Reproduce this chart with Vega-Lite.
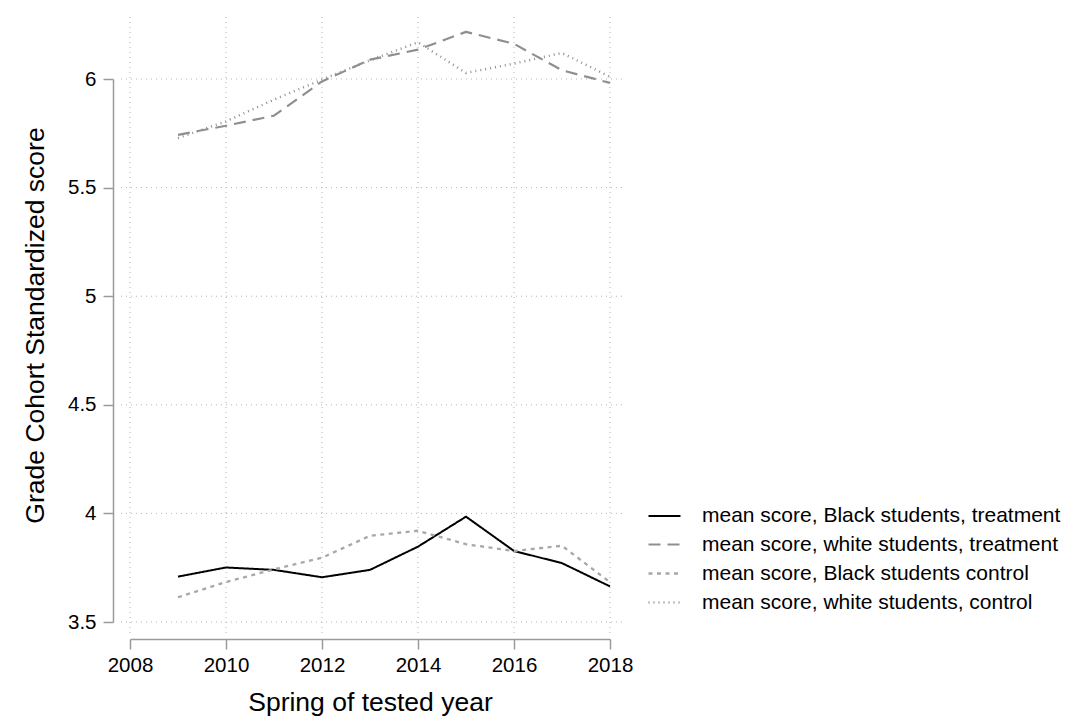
{
  "$schema": "https://vega.github.io/schema/vega-lite/v6.json",
  "width": 504,
  "height": 616,
  "autosize": {"type": "none"},
  "padding": {"left": 118, "top": 17, "right": 446, "bottom": 83},
  "background": "white",
  "config": {
    "font": "Liberation Sans",
    "view": {"stroke": null},
    "legend": {
      "orient": "none",
      "legendX": 529,
      "legendY": 482,
      "padding": 0,
      "labelFontSize": 21,
      "labelFontWeight": "normal",
      "labelColor": "#000000",
      "labelLimit": 0,
      "labelOffset": 20,
      "symbolType": "stroke",
      "symbolSize": 1024,
      "rowPadding": 1
    }
  },
  "datasets": {
    "xgrid": [{"year": 2008}, {"year": 2010}, {"year": 2012}, {"year": 2014}, {"year": 2016}, {"year": 2018}],
    "ygrid": [{"score": 3.5}, {"score": 4}, {"score": 4.5}, {"score": 5}, {"score": 5.5}, {"score": 6}],
    "scores": [
      {"year": 2009, "series": "mean score, Black students, treatment", "score": 3.709},
      {"year": 2010, "series": "mean score, Black students, treatment", "score": 3.751},
      {"year": 2011, "series": "mean score, Black students, treatment", "score": 3.740},
      {"year": 2012, "series": "mean score, Black students, treatment", "score": 3.706},
      {"year": 2013, "series": "mean score, Black students, treatment", "score": 3.740},
      {"year": 2014, "series": "mean score, Black students, treatment", "score": 3.847},
      {"year": 2015, "series": "mean score, Black students, treatment", "score": 3.985},
      {"year": 2016, "series": "mean score, Black students, treatment", "score": 3.827},
      {"year": 2017, "series": "mean score, Black students, treatment", "score": 3.771},
      {"year": 2018, "series": "mean score, Black students, treatment", "score": 3.664},

      {"year": 2009, "series": "mean score, white students, treatment", "score": 5.743},
      {"year": 2010, "series": "mean score, white students, treatment", "score": 5.785},
      {"year": 2011, "series": "mean score, white students, treatment", "score": 5.831},
      {"year": 2012, "series": "mean score, white students, treatment", "score": 5.989},
      {"year": 2013, "series": "mean score, white students, treatment", "score": 6.089},
      {"year": 2014, "series": "mean score, white students, treatment", "score": 6.135},
      {"year": 2015, "series": "mean score, white students, treatment", "score": 6.217},
      {"year": 2016, "series": "mean score, white students, treatment", "score": 6.162},
      {"year": 2017, "series": "mean score, white students, treatment", "score": 6.040},
      {"year": 2018, "series": "mean score, white students, treatment", "score": 5.982},

      {"year": 2009, "series": "mean score, Black students control", "score": 3.614},
      {"year": 2010, "series": "mean score, Black students control", "score": 3.684},
      {"year": 2011, "series": "mean score, Black students control", "score": 3.742},
      {"year": 2012, "series": "mean score, Black students control", "score": 3.796},
      {"year": 2013, "series": "mean score, Black students control", "score": 3.897},
      {"year": 2014, "series": "mean score, Black students control", "score": 3.920},
      {"year": 2015, "series": "mean score, Black students control", "score": 3.858},
      {"year": 2016, "series": "mean score, Black students control", "score": 3.827},
      {"year": 2017, "series": "mean score, Black students control", "score": 3.851},
      {"year": 2018, "series": "mean score, Black students control", "score": 3.683},

      {"year": 2009, "series": "mean score, white students, control", "score": 5.728},
      {"year": 2010, "series": "mean score, white students, control", "score": 5.805},
      {"year": 2011, "series": "mean score, white students, control", "score": 5.905},
      {"year": 2012, "series": "mean score, white students, control", "score": 5.997},
      {"year": 2013, "series": "mean score, white students, control", "score": 6.086},
      {"year": 2014, "series": "mean score, white students, control", "score": 6.169},
      {"year": 2015, "series": "mean score, white students, control", "score": 6.028},
      {"year": 2016, "series": "mean score, white students, control", "score": 6.071},
      {"year": 2017, "series": "mean score, white students, control", "score": 6.120},
      {"year": 2018, "series": "mean score, white students, control", "score": 6.010}
    ]
  },
  "layer": [
    {
      "data": {"name": "xgrid"},
      "mark": {"type": "rule", "stroke": "#b4b4b4", "strokeWidth": 1, "strokeDash": [1, 4]},
      "encoding": {
        "x": {"field": "year", "type": "quantitative", "title": "Spring of tested year"}
      }
    },
    {
      "data": {"name": "ygrid"},
      "mark": {"type": "rule", "stroke": "#b4b4b4", "strokeWidth": 1, "strokeDash": [1, 4]},
      "encoding": {
        "y": {"field": "score", "type": "quantitative", "title": "Grade Cohort Standardized score"}
      }
    },
    {
      "data": {"name": "scores"},
      "mark": {"type": "line", "strokeCap": "butt", "strokeJoin": "round"},
      "encoding": {
        "x": {
          "field": "year",
          "type": "quantitative",
          "title": "Spring of tested year",
          "scale": {"domain": [2008, 2018], "range": [12, 492], "nice": false, "zero": false},
          "axis": {
            "values": [2008, 2010, 2012, 2014, 2016, 2018],
            "format": "d",
            "grid": false,
            "offset": 6,
            "tickSize": 10,
            "tickWidth": 1.5,
            "tickColor": "#9a9a9a",
            "domainColor": "#9a9a9a",
            "domainWidth": 1.5,
            "labelFontSize": 20.5,
            "labelColor": "#000000",
            "labelPadding": 6,
            "labelFlush": false,
            "labelOverlap": false,
            "titleFontSize": 26.5,
            "titleFontWeight": "normal",
            "titleColor": "#000000",
            "titlePadding": 14
          }
        },
        "y": {
          "field": "score",
          "type": "quantitative",
          "title": "Grade Cohort Standardized score",
          "scale": {"domain": [3.5, 6], "range": [605, 62], "nice": false, "zero": false},
          "axis": {
            "values": [3.5, 4, 4.5, 5, 5.5, 6],
            "format": "~g",
            "grid": false,
            "offset": 5,
            "tickSize": 10,
            "tickWidth": 1.5,
            "tickColor": "#9a9a9a",
            "domainColor": "#9a9a9a",
            "domainWidth": 1.5,
            "labelFontSize": 20.5,
            "labelColor": "#000000",
            "labelPadding": 7,
            "labelFlush": false,
            "labelOverlap": false,
            "titleFontSize": 26.5,
            "titleFontWeight": "normal",
            "titleColor": "#000000",
            "titleBaseline": "middle",
            "titleX": -78,
            "titleY": 308
          }
        },
        "color": {
          "field": "series",
          "type": "nominal",
          "title": null,
          "sort": null,
          "scale": {
            "domain": ["mean score, Black students, treatment", "mean score, white students, treatment", "mean score, Black students control", "mean score, white students, control"],
            "range": ["#000000", "#8f8f8f", "#a8a8a8", "#8f8f8f"]
          }
        },
        "strokeDash": {
          "field": "series",
          "type": "nominal",
          "title": null,
          "sort": null,
          "scale": {
            "domain": ["mean score, Black students, treatment", "mean score, white students, treatment", "mean score, Black students control", "mean score, white students, control"],
            "range": [[1, 0], [12, 7], [4, 4.5], [1, 4]]
          }
        },
        "strokeWidth": {
          "field": "series",
          "type": "nominal",
          "title": null,
          "sort": null,
          "scale": {
            "domain": ["mean score, Black students, treatment", "mean score, white students, treatment", "mean score, Black students control", "mean score, white students, control"],
            "range": [2, 2.5, 2, 1.6]
          }
        }
      }
    }
  ]
}
